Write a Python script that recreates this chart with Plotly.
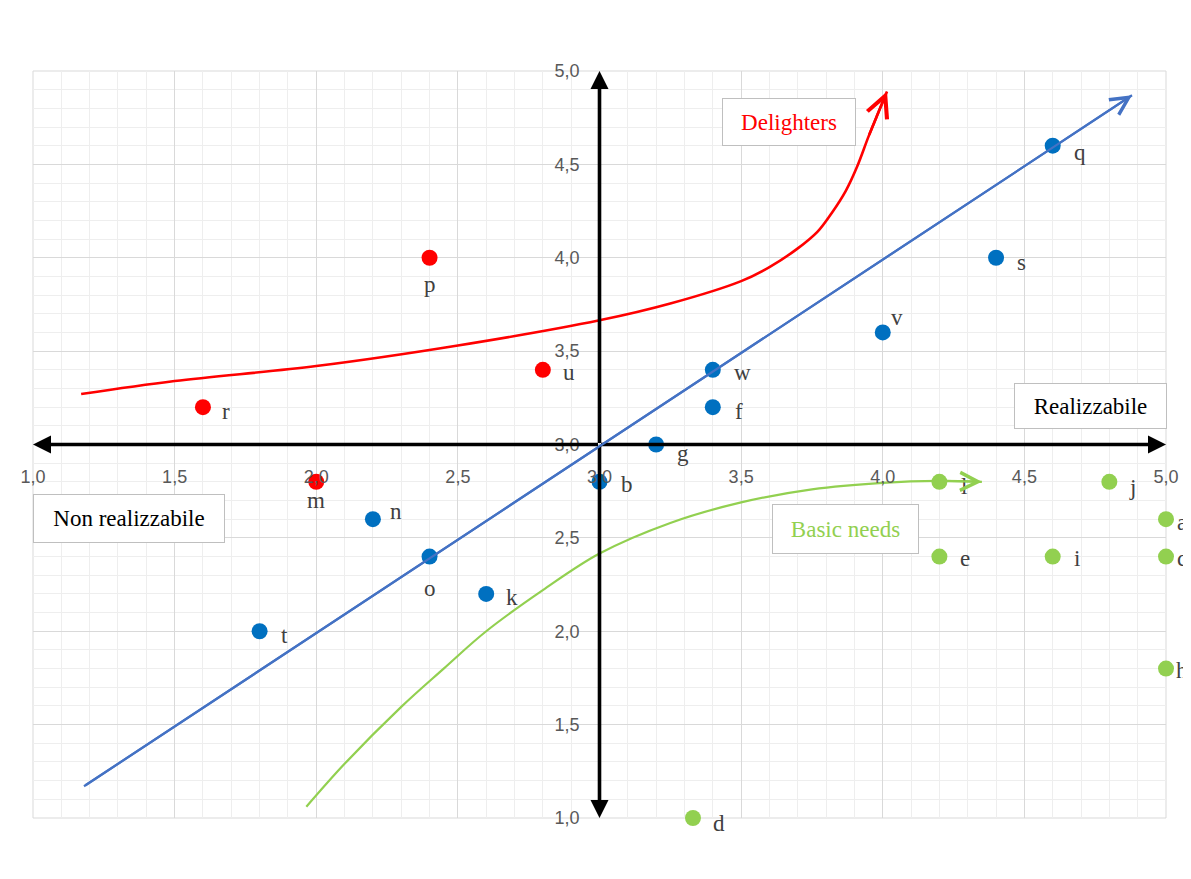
import plotly.graph_objects as go

# ---------------- data ----------------
blue_labels = ['q', 's', 'v', 'w', 'f', 'g', 'b', 'n', 'o', 'k', 't']
blue_x = [4.6, 4.4, 4.0, 3.4, 3.4, 3.2, 3.0, 2.2, 2.4, 2.6, 1.8]
blue_y = [4.6, 4.0, 3.6, 3.4, 3.2, 3.0, 2.8, 2.6, 2.4, 2.2, 2.0]

red_labels = ['p', 'u', 'r', 'm']
red_x = [2.4, 2.8, 1.6, 2.0]
red_y = [4.0, 3.4, 3.2, 2.8]

green_labels = ['l', 'j', 'a', 'e', 'i', 'c', 'h', 'd']
green_x = [4.2, 4.8, 5.0, 4.2, 4.6, 5.0, 5.0, 3.33]
green_y = [2.8, 2.8, 2.6, 2.4, 2.4, 2.4, 1.8, 1.0]

# guide curves
perf_x = [1.18, 4.88]
perf_y = [1.17, 4.87]

delight_x = [1.17, 1.5, 2.0, 2.5, 3.0, 3.25, 3.5, 3.6, 3.7, 3.77, 3.82, 3.87, 3.91, 3.95, 3.985, 4.015]
delight_y = [3.27, 3.34, 3.42, 3.53, 3.665, 3.755, 3.875, 3.95, 4.05, 4.14, 4.24, 4.36, 4.49, 4.65, 4.78, 4.89]

basic_x = [1.965, 2.1, 2.3, 2.45, 2.6, 2.8, 3.0, 3.25, 3.5, 3.75, 4.0, 4.2, 4.35]
basic_y = [1.06, 1.29, 1.595, 1.80, 2.0, 2.22, 2.416, 2.58, 2.69, 2.76, 2.795, 2.805, 2.80]

tick_vals = [1.0, 1.5, 2.0, 2.5, 3.0, 3.5, 4.0, 4.5, 5.0]

# label offsets in pixels (dx right, dy down)
label_offsets = {
    'q': (27, 7), 's': (25, 5), 'v': (14, -15), 'w': (30, 3), 'f': (26, 4),
    'g': (27, 9), 'b': (27, 3), 'n': (23, -8), 'o': (0, 32), 'k': (26, 4),
    't': (25, 4), 'p': (0, 27), 'u': (26, 3), 'r': (23, 4), 'm': (0, 19),
    'l': (25, 5), 'j': (23, 6), 'a': (16, 3), 'e': (26, 2), 'i': (24, 2),
    'c': (16, 2), 'h': (16, 2), 'd': (26, 5),
}

BLUE_M = '#0070C0'
BLUE_L = '#4472C4'
RED = '#FF0000'
GREEN = '#92D050'
SERIF = 'Liberation Serif, Times New Roman, serif'
SANS = 'Liberation Sans, Arial, sans-serif'

fig = go.Figure()

# curves
fig.add_trace(go.Scatter(x=perf_x, y=perf_y, mode='lines',
                         line=dict(color=BLUE_L, width=2.2), hoverinfo='skip'))
fig.add_trace(go.Scatter(x=delight_x, y=delight_y, mode='lines',
                         line=dict(color=RED, width=2.6, shape='spline', smoothing=1),
                         hoverinfo='skip'))
fig.add_trace(go.Scatter(x=basic_x, y=basic_y, mode='lines',
                         line=dict(color=GREEN, width=2.2, shape='spline', smoothing=1),
                         hoverinfo='skip'))

# points
for xs, ys, labs, col in [(blue_x, blue_y, blue_labels, BLUE_M),
                          (red_x, red_y, red_labels, RED),
                          (green_x, green_y, green_labels, GREEN)]:
    fig.add_trace(go.Scatter(x=xs, y=ys, mode='markers', text=labs,
                             marker=dict(color=col, size=16, line=dict(width=0)),
                             cliponaxis=False))

annotations = []
# point labels
for xs, ys, labs in [(blue_x, blue_y, blue_labels), (red_x, red_y, red_labels),
                     (green_x, green_y, green_labels)]:
    for x, y, lab in zip(xs, ys, labs):
        dx, dy = label_offsets[lab]
        annotations.append(dict(x=x, y=y, xref='x', yref='y', text=lab, showarrow=False,
                                xanchor='center', yanchor='middle', xshift=dx, yshift=-dy,
                                font=dict(family=SERIF, size=23, color='#404040')))

# black axis arrows
for (tx, ty) in [(5.0, 3.0), (1.0, 3.0), (3.0, 5.0), (3.0, 1.0)]:
    annotations.append(dict(x=tx, y=ty, ax=3.0, ay=3.0, xref='x', yref='y',
                            axref='x', ayref='y', text='', showarrow=True,
                            arrowhead=2, arrowsize=1.0, arrowwidth=3.6, arrowcolor='black'))

# curve arrowheads (open chevrons)
for cx, cy, col, w, back in [(perf_x, perf_y, BLUE_L, 2.2, 2), (delight_x, delight_y, RED, 2.6, 3),
                             (basic_x, basic_y, GREEN, 2.2, 2)]:
    annotations.append(dict(x=cx[-1], y=cy[-1], ax=cx[-back], ay=cy[-back], xref='x', yref='y',
                            axref='x', ayref='y', text='', showarrow=True,
                            arrowhead=5, arrowsize=1.6, arrowwidth=w, arrowcolor=col))

# text boxes
boxes = [
    ('Soddisfacente', 3.030, 5.211, 170, 49, '#000000'),
    ('Non soddisfacente', 3.014, 0.767, 211, 49, '#000000'),
    ('Non realizzabile', 1.338, 2.604, 192, 49, '#000000'),
    ('Realizzabile', 4.734, 3.206, 153, 46, '#000000'),
    ('Performance needs', 4.624, 5.011, 220, 50, BLUE_L),
    ('Delighters', 3.670, 4.727, 134, 48, RED),
    ('Basic needs', 3.869, 2.548, 147, 50, GREEN),
]
for txt, bx, by, bw, bh, col in boxes:
    annotations.append(dict(x=bx, y=by, xref='x', yref='y', text=txt, showarrow=False,
                            xanchor='center', yanchor='middle', width=bw - 4, height=bh - 4,
                            align='center', valign='middle', bgcolor='white',
                            bordercolor='#bfbfbf', borderwidth=1, borderpad=1,
                            font=dict(family=SERIF, size=23, color=col)))

fig.update_layout(
    width=1183, height=871,
    margin=dict(l=23, r=23, t=63, b=61),
    paper_bgcolor='white', plot_bgcolor='white',
    showlegend=False,
    separators=',.',
    annotations=annotations,
    shapes=[dict(type='rect', xref='paper', yref='paper', x0=0, y0=0, x1=1, y1=1,
                 line=dict(color='#d9d9d9', width=1), layer='below')],
    xaxis=dict(range=[1, 5], anchor='free', position=0.5, tickvals=tick_vals,
               tickformat='.1f', showline=False, zeroline=False,
               showgrid=True, gridcolor='#d9d9d9', gridwidth=1,
               minor=dict(dtick=0.1, showgrid=True, gridcolor='#eeeeee', gridwidth=1),
               ticks='', ticklabelstandoff=19,
               tickfont=dict(family=SANS, size=18, color='#595959')),
    yaxis=dict(range=[1, 5], anchor='free', position=0.5, tickvals=tick_vals,
               tickformat='.1f', showline=False, zeroline=False,
               showgrid=True, gridcolor='#d9d9d9', gridwidth=1,
               minor=dict(dtick=0.1, showgrid=True, gridcolor='#eeeeee', gridwidth=1),
               ticks='', ticklabelstandoff=20,
               tickfont=dict(family=SANS, size=18, color='#595959')),
)

fig.write_html('out.html')
